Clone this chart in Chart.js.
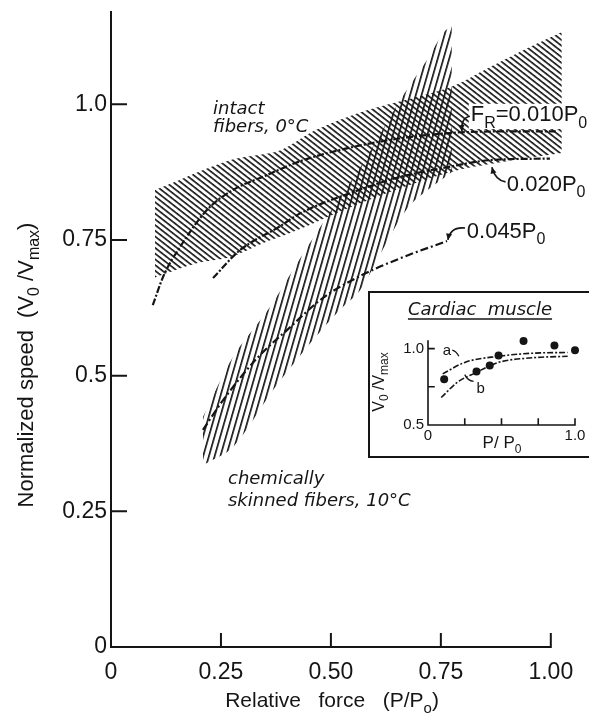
<!DOCTYPE html>
<html>
<head>
<meta charset="utf-8">
<script src="https://cdn.jsdelivr.net/npm/chart.js@4.4.1/dist/chart.umd.min.js"></script>
<style>
html, body { margin: 0; padding: 0; background: #fff; overflow: hidden; }
#wrap { position: relative; width: 589px; height: 720px; overflow: hidden; background: #fff; }
#main { position: absolute; left: 0; top: 0; }
#insetBox { position: absolute; left: 368px; top: 291px; width: 240px; height: 163px; border: 2px solid #151515; background: #fff; }
#inset { position: absolute; left: 0; top: 0; }
</style>
</head>
<body>
<div id="wrap">
  <canvas id="main" width="589" height="720"></canvas>
  <div id="insetBox"><canvas id="inset" width="240" height="163"></canvas></div>
</div>
<script>
// ---- main plot data ----
const xTicks = [0, 0.25, 0.5, 0.75, 1.0];
const xTickLabels = ['0', '0.25', '0.50', '0.75', '1.00'];
const yTicks = [0, 0.25, 0.5, 0.75, 1.0];
const yTickLabels = ['0', '0.25', '0.5', '0.75', '1.0'];

// intact fibers, 0 C : band edges
const intactLoX = [0.10, 0.195, 0.27, 0.345, 0.423, 0.543, 0.657, 0.786, 0.90, 1.025];
const intactLoY = [0.681, 0.707, 0.718, 0.744, 0.768, 0.810, 0.845, 0.878, 0.895, 0.910];
const intactHiX = [0.10, 0.27, 0.384, 0.464, 0.582, 0.77, 0.861, 0.936, 1.025];
const intactHiY = [0.842, 0.897, 0.915, 0.952, 0.989, 1.031, 1.068, 1.099, 1.133];

// chemically skinned fibers, 10 C : band edges
const skinLoX = [0.209, 0.277, 0.368, 0.445, 0.520, 0.566, 0.623, 0.680, 0.775];
const skinLoY = [0.335, 0.368, 0.473, 0.552, 0.621, 0.657, 0.740, 0.814, 0.875];
const skinHiX = [0.209, 0.277, 0.361, 0.430, 0.498, 0.577, 0.657, 0.718, 0.755, 0.775];
const skinHiY = [0.424, 0.534, 0.626, 0.716, 0.801, 0.897, 1.007, 1.081, 1.131, 1.145];

// model curves for three values of F_R
const fr010X = [0.095, 0.12, 0.157, 0.218, 0.277, 0.35, 0.43, 0.543, 0.657, 0.77, 0.90, 1.013];
const fr010Y = [0.63, 0.685, 0.737, 0.805, 0.842, 0.868, 0.895, 0.92, 0.937, 0.947, 0.95, 0.95];
const fr020X = [0.232, 0.293, 0.384, 0.43, 0.543, 0.657, 0.764, 0.861, 0.998];
const fr020Y = [0.68, 0.731, 0.775, 0.799, 0.836, 0.866, 0.884, 0.897, 0.90];
const fr045X = [0.209, 0.255, 0.332, 0.407, 0.48, 0.565, 0.657, 0.764];
const fr045Y = [0.40, 0.455, 0.532, 0.589, 0.642, 0.683, 0.716, 0.748];

// ---- inset (cardiac muscle) ----
const cardX = [0.11, 0.33, 0.42, 0.48, 0.65, 0.86, 1.0];
const cardY = [0.80, 0.85, 0.89, 0.955, 1.05, 1.02, 0.99];
const curveAX = [0.10, 0.25, 0.48, 0.71, 0.95];
const curveAY = [0.835, 0.91, 0.95, 0.97, 0.975];
const curveBX = [0.09, 0.20, 0.32, 0.48, 0.71, 0.95];
const curveBY = [0.68, 0.78, 0.84, 0.91, 0.94, 0.95];
const insetXTicks = [0, 0.25, 0.5, 0.75, 1.0];
const insetXLabels = ['0', '', '', '', '1.0'];
const insetYTicks = [0.5, 0.75, 1.0];
const insetYLabels = ['0.5', '', '1.0'];

const ink = '#151515';
const FONT = '"Liberation Sans", Arial, sans-serif';
const NOTE_FONT = '"DejaVu Sans", sans-serif';

function pts(xs, ys){ return xs.map((x, i) => ({x: x, y: ys[i]})); }

// striped fill, horizontal lines rotated by angle
function hatch(angle, tile, lw, squeeze){
  const c = document.createElement('canvas');
  c.width = 16; c.height = tile;
  const g = c.getContext('2d');
  g.fillStyle = ink;
  g.fillRect(0, 0, 16, lw);
  const p = g.createPattern(c, 'repeat');
  p.setTransform(new DOMMatrix().rotateSelf(angle).scaleSelf(1, squeeze));
  return p;
}

function band(xs, ys, fill, pattern){
  return {data: pts(xs, ys), fill: fill, backgroundColor: pattern || 'rgba(0,0,0,0)',
    borderColor: 'rgba(0,0,0,0)', borderWidth: 0, pointRadius: 0, tension: 0.3, order: 2};
}
function curve(xs, ys, dash){
  return {data: pts(xs, ys), fill: false, borderColor: ink, borderWidth: 2.2, borderDash: dash,
    pointRadius: 0, tension: 0.4, cubicInterpolationMode: 'monotone', order: 0};
}

// text with subscripts; parts = [[text, isSub], ...]
function drawRich(ctx, parts, x, y, size, opts){
  opts = opts || {};
  const style = opts.italic ? 'italic ' : '';
  const fam = opts.family || FONT;
  const subSize = Math.round(size * 0.72);
  let w = 0;
  parts.forEach(([t, sub]) => { ctx.font = style + (sub ? subSize : size) + 'px ' + fam; w += ctx.measureText(t).width; });
  let cx = opts.align === 'center' ? -w / 2 : 0;
  ctx.save();
  ctx.translate(x, y);
  if (opts.rotate) ctx.rotate(opts.rotate);
  if (opts.knockout) {
    ctx.fillStyle = '#fff';
    ctx.fillRect(cx - 2, -size * 0.8, w + 4, size * 1.15);
  }
  ctx.fillStyle = ink;
  ctx.textBaseline = 'alphabetic';
  parts.forEach(([t, sub]) => {
    ctx.font = style + (sub ? subSize : size) + 'px ' + fam;
    ctx.fillText(t, cx, sub ? size * 0.28 : 0);
    cx += ctx.measureText(t).width;
  });
  ctx.restore();
  return w;
}

function arrow(ctx, x, y, a){
  // a: [startX, startY, ctrlX, ctrlY, endX, endY] in data units
  const p = [x.getPixelForValue(a[0]), y.getPixelForValue(a[1]), x.getPixelForValue(a[2]),
             y.getPixelForValue(a[3]), x.getPixelForValue(a[4]), y.getPixelForValue(a[5])];
  ctx.beginPath();
  ctx.moveTo(p[0], p[1]);
  ctx.quadraticCurveTo(p[2], p[3], p[4], p[5]);
  ctx.stroke();
  const ang = Math.atan2(p[5] - p[3], p[4] - p[2]);
  ctx.beginPath();
  ctx.moveTo(p[4], p[5]);
  ctx.lineTo(p[4] - 7 * Math.cos(ang - 0.45), p[5] - 7 * Math.sin(ang - 0.45));
  ctx.lineTo(p[4] - 7 * Math.cos(ang + 0.45), p[5] - 7 * Math.sin(ang + 0.45));
  ctx.closePath();
  ctx.fill();
}

// annotations for the main plot (anchors in data units)
const notes = [
  {x: 0.232, y: 0.994, size: 18, italic: true, family: NOTE_FONT, parts: [['intact']]},
  {x: 0.232, y: 0.961, size: 18, italic: true, family: NOTE_FONT, parts: [['fibers, 0°C']]},
  {x: 0.266, y: 0.313, size: 18, italic: true, family: NOTE_FONT, parts: [['chemically']]},
  {x: 0.266, y: 0.271, size: 18, italic: true, family: NOTE_FONT, parts: [['skinned fibers, 10°C']]},
  {x: 0.818, y: 0.983, size: 22, knockout: true, parts: [['F'], ['R', true], ['=0.010P'], ['0', true]]},
  {x: 0.90, y: 0.855, size: 22, parts: [['0.020P'], ['0', true]]},
  {x: 0.809, y: 0.768, size: 22, parts: [['0.045P'], ['0', true]]}
];
const arrows = [
  [0.816, 0.978, 0.795, 0.975, 0.798, 0.950],
  [0.897, 0.857, 0.874, 0.860, 0.866, 0.884],
  [0.805, 0.772, 0.772, 0.775, 0.766, 0.750]
];

function axesPainter(xt, yt, tickX, tickY, lw){
  return {
    id: 'axesPainter',
    afterDatasetsDraw(chart){
      const {ctx, scales: {x, y}} = chart;
      const x0 = x.getPixelForValue(xt[0]);
      const y0 = y.getPixelForValue(yt[0]);
      ctx.save();
      ctx.strokeStyle = ink;
      ctx.lineWidth = lw;
      ctx.lineCap = 'square';
      ctx.beginPath();
      ctx.moveTo(x0, y.getPixelForValue(y.max));
      ctx.lineTo(x0, y0);
      ctx.lineTo(x.getPixelForValue(xt[xt.length - 1]), y0);
      xt.slice(1).forEach(v => { const px = x.getPixelForValue(v); ctx.moveTo(px, y0); ctx.lineTo(px, y0 - tickX); });
      yt.slice(1).forEach(v => { const py = y.getPixelForValue(v); ctx.moveTo(x0, py); ctx.lineTo(x0 + tickY, py); });
      ctx.stroke();
      ctx.restore();
    }
  };
}

const mainText = {
  id: 'mainText',
  afterDraw(chart){
    const {ctx, scales: {x, y}} = chart;
    notes.forEach(n => {
      drawRich(ctx, n.parts, x.getPixelForValue(n.x), y.getPixelForValue(n.y) + n.size * 0.36, n.size,
        {italic: n.italic, family: n.family, knockout: n.knockout});
    });
    ctx.save();
    ctx.strokeStyle = ink; ctx.fillStyle = ink; ctx.lineWidth = 1.6;
    arrows.forEach(a => arrow(ctx, x, y, a));
    ctx.restore();
    // axis titles
    drawRich(ctx, [['Normalized speed  (V'], ['0', true], [' /V'], ['max', true], [')']], 33, 365, 22,
      {align: 'center', rotate: -Math.PI / 2});
    drawRich(ctx, [['Relative   force   (P/P'], ['o', true], [')']], 332, 707, 21, {align: 'center'});
  }
};

new Chart(document.getElementById('main'), {
  type: 'line',
  data: {
    datasets: [
      band(intactLoX, intactLoY, false, null),
      band(intactHiX, intactHiY, '-1', hatch(38, 5, 1.8, 0.9)),
      band(skinLoX, skinLoY, false, null),
      band(skinHiX, skinHiY, '-1', hatch(-74, 6, 1.8, 0.92)),
      curve(fr010X, fr010Y, [7, 2, 2, 2]),
      curve(fr020X, fr020Y, [7, 2, 2, 2]),
      curve(fr045X, fr045Y, [8, 3, 2, 3])
    ]
  },
  options: {
    responsive: false,
    animation: false,
    layout: {padding: {left: 0, right: 25, top: 12, bottom: 0}},
    plugins: {legend: {display: false}, tooltip: {enabled: false}},
    scales: {
      x: {
        type: 'linear', min: 0, max: 1.03,
        grid: {display: false, drawTicks: false}, border: {display: false},
        afterBuildTicks: s => { s.ticks = xTicks.map(v => ({value: v})); },
        afterFit: s => { s.height = 73; s.paddingLeft = 0; s.paddingRight = 0; },
        ticks: {callback: v => xTickLabels[xTicks.indexOf(v)], color: ink, font: {family: FONT, size: 23},
          padding: 12, maxRotation: 0, autoSkip: false}
      },
      y: {
        type: 'linear', min: 0, max: 1.17,
        grid: {display: false, drawTicks: false}, border: {display: false},
        afterBuildTicks: s => { s.ticks = yTicks.map(v => ({value: v})); },
        afterFit: s => { s.width = 111; s.paddingTop = 0; s.paddingBottom = 0; },
        ticks: {callback: v => yTickLabels[yTicks.indexOf(v)], color: ink, font: {family: FONT, size: 23},
          padding: 4, autoSkip: false}
      }
    }
  },
  plugins: [axesPainter(xTicks, yTicks, 13, 15, 2), mainText]
});

// ---- inset chart ----
const insetText = {
  id: 'insetText',
  afterDraw(chart){
    const {ctx, scales: {x, y}} = chart;
    const w = drawRich(ctx, [['Cardiac  muscle']], 110, 22, 18, {italic: true, align: 'center', family: NOTE_FONT});
    ctx.save();
    ctx.strokeStyle = ink; ctx.lineWidth = 1.5;
    ctx.beginPath(); ctx.moveTo(110 - w / 2, 26); ctx.lineTo(110 + w / 2, 26); ctx.stroke();
    ctx.restore();
    drawRich(ctx, [['V'], ['0', true], [' /V'], ['max', true]], 14, 89, 16, {align: 'center', rotate: -Math.PI / 2});
    drawRich(ctx, [['P/ P'], ['0', true]], 132, 155, 17, {align: 'center'});
    // curve labels a and b
    drawRich(ctx, [['a']], x.getPixelForValue(0.10), y.getPixelForValue(0.99) + 5, 15, {});
    drawRich(ctx, [['b']], x.getPixelForValue(0.33), y.getPixelForValue(0.745) + 5, 15, {});
    ctx.save();
    ctx.strokeStyle = ink; ctx.lineWidth = 1.3;
    ctx.beginPath();
    ctx.moveTo(x.getPixelForValue(0.165), y.getPixelForValue(0.99));
    ctx.quadraticCurveTo(x.getPixelForValue(0.19), y.getPixelForValue(0.985), x.getPixelForValue(0.21), y.getPixelForValue(0.95));
    ctx.moveTo(x.getPixelForValue(0.25), y.getPixelForValue(0.83));
    ctx.quadraticCurveTo(x.getPixelForValue(0.27), y.getPixelForValue(0.79), x.getPixelForValue(0.31), y.getPixelForValue(0.785));
    ctx.stroke();
    ctx.restore();
  }
};

new Chart(document.getElementById('inset'), {
  type: 'line',
  data: {
    datasets: [
      {data: pts(cardX, cardY), showLine: false, pointRadius: 4, pointBackgroundColor: ink, pointBorderWidth: 0, clip: false},
      {data: pts(curveAX, curveAY), fill: false, borderColor: ink, borderWidth: 1.6, borderDash: [6, 2, 2, 2],
        pointRadius: 0, tension: 0.4, cubicInterpolationMode: 'monotone'},
      {data: pts(curveBX, curveBY), fill: false, borderColor: ink, borderWidth: 1.6, borderDash: [6, 2, 2, 2],
        pointRadius: 0, tension: 0.4, cubicInterpolationMode: 'monotone'}
    ]
  },
  options: {
    responsive: false,
    animation: false,
    layout: {padding: {left: 0, right: 35, top: 48, bottom: 0}},
    plugins: {legend: {display: false}, tooltip: {enabled: false}},
    scales: {
      x: {
        type: 'linear', min: 0, max: 1.0,
        grid: {display: false, drawTicks: false}, border: {display: false},
        afterBuildTicks: s => { s.ticks = insetXTicks.map(v => ({value: v})); },
        afterFit: s => { s.height = 31; s.paddingLeft = 0; s.paddingRight = 0; },
        ticks: {callback: v => insetXLabels[insetXTicks.indexOf(v)], color: ink, font: {family: FONT, size: 15},
          padding: 2, maxRotation: 0, autoSkip: false}
      },
      y: {
        type: 'linear', min: 0.5, max: 1.05,
        grid: {display: false, drawTicks: false}, border: {display: false},
        afterBuildTicks: s => { s.ticks = insetYTicks.map(v => ({value: v})); },
        afterFit: s => { s.width = 58; s.paddingTop = 0; s.paddingBottom = 0; },
        ticks: {callback: v => insetYLabels[insetYTicks.indexOf(v)], color: ink, font: {family: FONT, size: 15},
          padding: 4, autoSkip: false}
      }
    }
  },
  plugins: [axesPainter(insetXTicks, insetYTicks, 6, 6, 1.6), insetText]
});
</script>
</body>
</html>
